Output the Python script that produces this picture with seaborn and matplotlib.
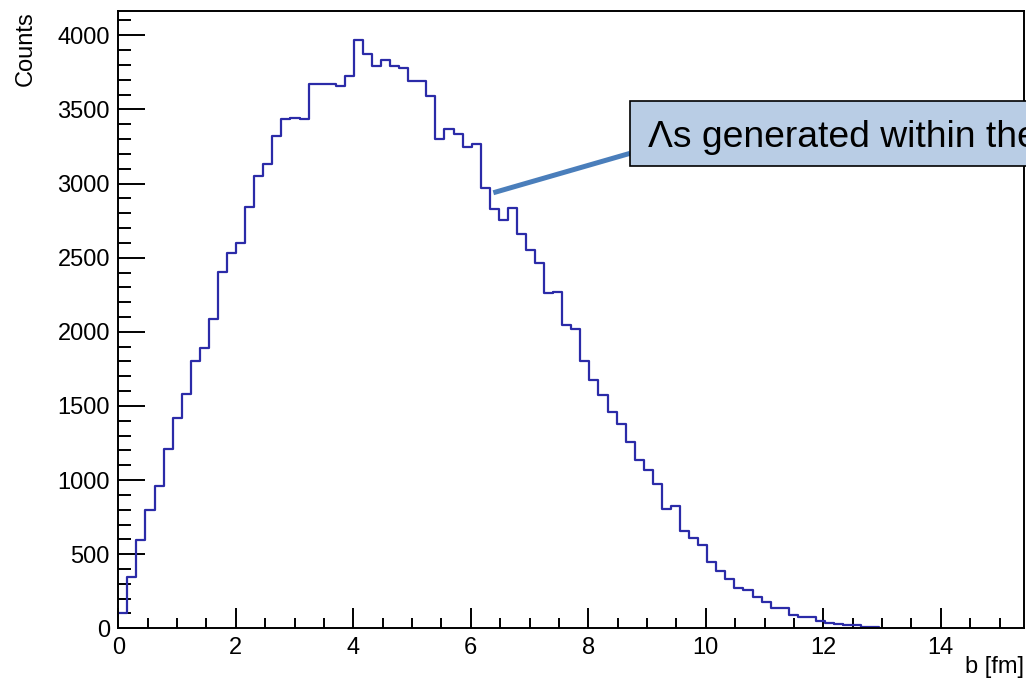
import numpy as np
import pandas as pd
import matplotlib
matplotlib.use("Agg")
import matplotlib.pyplot as plt
from matplotlib.patches import Rectangle
from matplotlib.ticker import MultipleLocator
import seaborn as sns

# ---- data ----
x_min = 0.0
x_max = 15.42
n_bins_total = 100
bin_width = (x_max - x_min) / n_bins_total

counts = [100, 346, 598, 796, 960, 1209, 1419, 1581, 1801, 1889,
          2084, 2403, 2534, 2602, 2840, 3051, 3134, 3321, 3433, 3442,
          3433, 3669, 3669, 3669, 3658, 3728, 3966, 3871, 3791, 3836,
          3793, 3782, 3694, 3694, 3593, 3301, 3366, 3332, 3245, 3265,
          2970, 2829, 2752, 2833, 2662, 2555, 2467, 2260, 2271, 2043,
          2019, 1801, 1672, 1571, 1462, 1376, 1254, 1133, 1070, 972,
          804, 828, 654, 609, 562, 447, 384, 333, 270, 258,
          214, 180, 140, 140, 92, 74, 74, 52, 36, 27,
          20, 20, 9, 8]

x_label = "b [fm]"
y_label = "Counts"
note_text = "Λs generated within the acceptance"

edges = [x_min + bin_width * i for i in range(len(counts) + 1)]
centers = [0.5 * (edges[i] + edges[i + 1]) for i in range(len(counts))]
df = pd.DataFrame({"b": centers, "n": counts})

# ---- style ----
sns.set_style("ticks")
plt.rcParams["font.family"] = ["Liberation Sans", "DejaVu Sans"]
plt.rcParams["text.color"] = "black"
plt.rcParams["axes.labelcolor"] = "black"

fig = plt.figure(figsize=(10.26, 6.86), dpi=100)
ax = fig.add_axes([118.3 / 1026, 1 - 628.3 / 686, 906 / 1026, 617.3 / 686])

sns.histplot(data=df, x="b", weights="n", bins=edges, element="step",
             fill=False, color="#2b2ba8", linewidth=1.6, ax=ax, zorder=1)

ax.set_xlim(x_min, x_max)
ax.set_ylim(0, 4164)

for s in ax.spines.values():
    s.set_visible(True)
    s.set_color("black")
    s.set_linewidth(1.4)

ax.xaxis.set_major_locator(MultipleLocator(2))
ax.xaxis.set_minor_locator(MultipleLocator(0.5))
ax.yaxis.set_major_locator(MultipleLocator(500))
ax.yaxis.set_minor_locator(MultipleLocator(100))

ax.tick_params(axis="both", which="both", direction="in", colors="black",
               width=1.4, labelsize=17, top=False, right=False)
ax.tick_params(axis="y", which="major", length=19.4, pad=6)
ax.tick_params(axis="y", which="minor", length=9.6)
ax.tick_params(axis="x", which="major", length=14.4, pad=6)
ax.tick_params(axis="x", which="minor", length=7.2)

ax.set_xlabel(x_label, fontsize=17, loc="right", color="black")
ax.xaxis.set_label_coords(1.0, -0.045)
ax.set_ylabel(y_label, fontsize=17, loc="top", color="black")
ax.yaxis.set_label_coords(-0.09, 1.0)

# ---- annotation ----
ax.plot([6.383, 8.71], [2938, 3204], color="#4a7ebb", linewidth=3.6,
        solid_capstyle="butt", zorder=4, clip_on=False)
ax.add_patch(Rectangle((8.71, 3118), 10.0, 439, facecolor="#b9cde5",
                       edgecolor="black", linewidth=1.2, zorder=5,
                       clip_on=False))
ax.text(9.02, 3249, note_text, fontsize=26.8, color="black", ha="left",
        va="baseline", zorder=6, clip_on=False)

fig.savefig("out.png", dpi=100)
